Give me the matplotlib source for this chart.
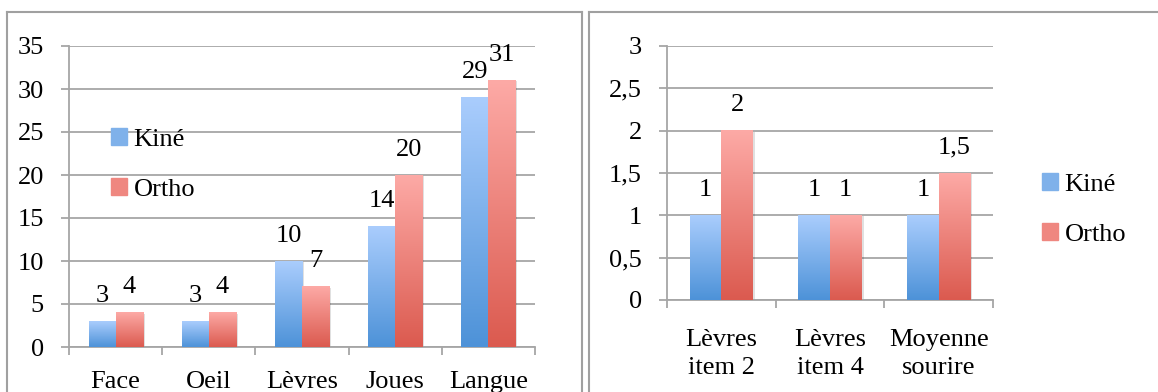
import numpy as np
import matplotlib.pyplot as plt
from matplotlib.colors import LinearSegmentedColormap
from matplotlib.lines import Line2D
from matplotlib.patches import Rectangle
from matplotlib.ticker import FuncFormatter
import matplotlib.transforms as mtransforms

# Left chart: counts per zone
zones = ["Face", "Oeil", "Lèvres", "Joues", "Langue"]
kine_zones = [3, 3, 10, 14, 29]
ortho_zones = [4, 4, 7, 20, 31]

# Right chart: smile items
items = ["Lèvres\nitem 2", "Lèvres\nitem 4", "Moyenne\nsourire"]
kine_items = [1, 1, 1]
ortho_items = [2, 1, 1.5]

series_names = ["Kiné", "Ortho"]

W, H = 1158, 392
plt.rcParams["font.family"] = ["Liberation Serif", "DejaVu Serif"]
plt.rcParams["font.size"] = 19

GRID = "#a6a6a6"
KINE = ("#4d92d8", "#aacdfd")   # bottom, top
ORTHO = ("#db5a4f", "#fdaaa6")
BAR_W = 0.29


def comma(v, _=None):
    return f"{v:g}".replace(".", ",")


def gradient_bar(ax, x0, width, height, colors):
    cmap = LinearSegmentedColormap.from_list("g", list(colors))
    grad = np.linspace(0, 1, 256).reshape(-1, 1)
    # soft drop shadow on the right side
    shadow = mtransforms.offset_copy(ax.transData, fig=ax.figure, x=2, y=-1, units="dots")
    ax.add_patch(Rectangle((x0, 0), width, height, color="#000000", alpha=0.12,
                           lw=0, transform=shadow, zorder=2))
    ax.imshow(grad, extent=[x0, x0 + width, 0, height], origin="lower",
              cmap=cmap, aspect="auto", zorder=3, interpolation="bicubic")


def draw_panel(ax, labels, kine, ortho, ymax, ystep, label_pad):
    n = len(labels)
    x = np.arange(n)
    for i in range(n):
        gradient_bar(ax, x[i] - BAR_W, BAR_W, kine[i], KINE)
        gradient_bar(ax, x[i], BAR_W, ortho[i], ORTHO)
        ax.annotate(comma(kine[i]), (x[i] - BAR_W / 2, kine[i]), xytext=(0, 14),
                    textcoords="offset points", ha="center", va="baseline")
        ax.annotate(comma(ortho[i]), (x[i] + BAR_W / 2, ortho[i]), xytext=(0, 14),
                    textcoords="offset points", ha="center", va="baseline")

    ax.set_xlim(-0.5, n - 0.5)
    ax.set_ylim(0, ymax)
    ax.set_yticks(np.arange(0, ymax + ystep / 2, ystep))
    ax.yaxis.set_major_formatter(FuncFormatter(comma))
    ax.yaxis.grid(True, color=GRID, lw=1.3, zorder=0)
    ax.set_axisbelow(True)

    # tick marks on category boundaries, labels at category centres
    ax.set_xticks(np.arange(-0.5, n, 1.0))
    ax.set_xticklabels([])
    ax.set_xticks(x, minor=True)
    ax.set_xticklabels(labels, minor=True, linespacing=1.35)
    ax.tick_params(axis="x", which="minor", length=0, pad=label_pad)
    ax.tick_params(axis="x", which="major", length=6, width=1.3, color=GRID, direction="out")
    ax.tick_params(axis="y", length=6, width=1.3, color=GRID, pad=12)

    for side in ("top", "right"):
        ax.spines[side].set_visible(False)
    for side in ("left", "bottom"):
        ax.spines[side].set_color(GRID)
        ax.spines[side].set_linewidth(1.3)


def legend(ax, left_px, top_px):
    handles = [Rectangle((0, 0), 1, 1, color="#7fb1ea"),
               Rectangle((0, 0), 1, 1, color="#ef8780")]
    ax.legend(handles, series_names, loc="upper left",
              bbox_to_anchor=(left_px / W, 1 - top_px / H),
              bbox_transform=ax.figure.transFigure, frameon=False,
              borderpad=0, borderaxespad=0, handlelength=0.6, handleheight=0.6,
              handletextpad=0.25, labelspacing=1.05)


fig = plt.figure(figsize=(W / 100, H / 100), dpi=100)


def px_axes(x0, x1, y_top, y_bottom):
    return fig.add_axes([x0 / W, 1 - y_bottom / H, (x1 - x0) / W, (y_bottom - y_top) / H])


ax1 = px_axes(69, 535, 46, 347)
draw_panel(ax1, zones, kine_zones, ortho_zones, 35, 5, 17)
legend(ax1, 111, 128)

ax2 = px_axes(667, 993, 46, 300)
draw_panel(ax2, items, kine_items, ortho_items, 3, 0.5, 21)
legend(ax2, 1042, 173)

# chart frames
frame = dict(color="#a0a0a0", lw=1.5, transform=fig.transFigure)
for xs, ys in [((7, 7), (12, H + 5)), ((7, 582), (12, 12)), ((582, 582), (12, H + 5)),
               ((589, 589), (12, H + 5)), ((589, W + 5), (12, 12))]:
    fig.add_artist(Line2D([v / W for v in xs], [1 - v / H for v in ys], **frame))

fig.savefig("out.png", dpi=100)
